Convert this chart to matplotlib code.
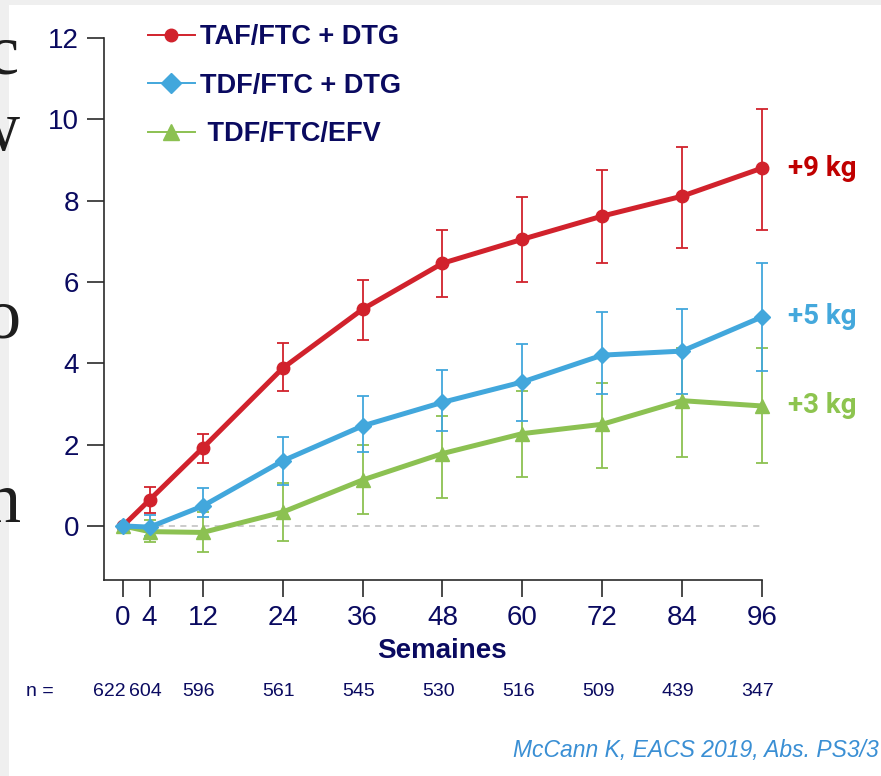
import matplotlib
matplotlib.use("Agg")
import matplotlib.pyplot as plt
from matplotlib.lines import Line2D
from matplotlib.patches import Rectangle
import matplotlib.transforms as mtransforms
import numpy as np

# ---- data -------------------------------------------------------------
weeks = [0, 4, 12, 24, 36, 48, 60, 72, 84, 96]
n_at_risk = [622, 604, 596, 561, 545, 530, 516, 509, 439, 347]

series_names = ["TAF/FTC + DTG", "TDF/FTC + DTG", " TDF/FTC/EFV"]

taf_dtg = [0.0, 0.64, 1.92, 3.88, 5.33, 6.46, 7.05, 7.62, 8.11, 8.80]
taf_dtg_lo = [0.0, 0.32, 1.55, 3.32, 4.57, 5.63, 6.00, 6.47, 6.83, 7.27]
taf_dtg_hi = [0.0, 0.96, 2.26, 4.50, 6.04, 7.27, 8.08, 8.75, 9.31, 10.25]

tdf_dtg = [0.0, -0.03, 0.49, 1.60, 2.46, 3.04, 3.54, 4.20, 4.30, 5.14]
tdf_dtg_lo = [0.0, -0.25, 0.22, 1.00, 1.82, 2.33, 2.58, 3.24, 3.24, 3.81]
tdf_dtg_hi = [0.0, 0.27, 0.93, 2.19, 3.19, 3.83, 4.47, 5.26, 5.33, 6.46]

tdf_efv = [0.0, -0.14, -0.16, 0.34, 1.13, 1.78, 2.27, 2.50, 3.08, 2.95]
tdf_efv_lo = [0.0, -0.39, -0.65, -0.37, 0.29, 0.69, 1.20, 1.42, 1.70, 1.55]
tdf_efv_hi = [0.0, 0.15, 0.34, 1.06, 1.99, 2.70, 3.32, 3.51, 4.37, 4.37]

# ---- styling ------------------------------------------------------------
SANS = ["Liberation Sans", "DejaVu Sans"]
LABEL_FONT = ["Roboto", "Liberation Sans", "DejaVu Sans"]
SERIF = ["Liberation Serif", "DejaVu Serif"]

NAVY = "#0a0a60"
RED, RED_TXT = "#d1222c", "#c00000"
BLUE, BLUE_TXT = "#42a7dc", "#44a8dc"
GREEN, GREEN_TXT = "#8cc152", "#8dc44f"

W, H = 881, 776
fig = plt.figure(figsize=(W / 100, H / 100), dpi=100)
fig.patch.set_facecolor("white")

# slide frame behind the chart panel
fig.add_artist(Rectangle((0, 0), 9 / W, 1, transform=fig.transFigure,
                         facecolor="#efefef", edgecolor="none", zorder=0))
fig.add_artist(Rectangle((0, 1 - 5 / H), 1, 5 / H, transform=fig.transFigure,
                         facecolor="#efefef", edgecolor="none", zorder=0))
# slide text peeking out at the left edge
for txt, ybase in [("rc", 73), ("w", 150), ("o", 337), ("n", 522)]:
    fig.text(20 / W, 1 - ybase / H, txt, ha="right", va="baseline",
             fontsize=52, family=SERIF, color="#1e1e1e", zorder=1)

x0, x1 = 104, 762
ytop, ybot = 38, 580
ax = fig.add_axes([x0 / W, 1 - ybot / H, (x1 - x0) / W, (ybot - ytop) / H])
ax.set_facecolor("none")
ax.set_xlim(-2.85, 96)
ax.set_ylim(-1.33, 12)

for s in ("top", "right"):
    ax.spines[s].set_visible(False)
for s in ("left", "bottom"):
    ax.spines[s].set_linewidth(1.2)
    ax.spines[s].set_color("#2a2a2a")

ax.set_xticks(weeks)
ax.set_yticks(range(0, 13, 2))
ax.tick_params(direction="out", length=12, width=1.2, color="#2a2a2a",
               labelsize=20, labelcolor=NAVY, pad=6)
for lab in ax.get_xticklabels() + ax.get_yticklabels():
    lab.set_family(SANS)

# reference line at zero
ax.plot([0, 96], [0, 0], ls=(0, (4, 3.5)), lw=1.1, color="#bdbdbd", zorder=1)

specs = [
    (taf_dtg, taf_dtg_lo, taf_dtg_hi, RED, RED_TXT, "o", 9),
    (tdf_efv, tdf_efv_lo, tdf_efv_hi, GREEN, GREEN_TXT, "^", 10),
    (tdf_dtg, tdf_dtg_lo, tdf_dtg_hi, BLUE, BLUE_TXT, "D", 8.5),
]
for vals, lo, hi, col, tcol, mk, ms in specs:
    v = np.array(vals)
    yerr = np.vstack([v - np.array(lo), np.array(hi) - v])
    ax.errorbar(weeks[1:], v[1:], yerr=yerr[:, 1:], fmt="none", ecolor=col,
                elinewidth=1.3, capsize=4.5, capthick=1.3, zorder=2, clip_on=False)
    ax.plot(weeks, v, color=col, lw=3.6, marker=mk, ms=ms, mec=col, mfc=col,
            zorder=3, clip_on=False, solid_joinstyle="round")
    ax.annotate(f"+{round(v[-1])} kg", xy=(weeks[-1], v[-1]), xytext=(26, 0),
                textcoords="offset pixels", ha="left", va="center",
                fontsize=20, fontweight="bold", family=LABEL_FONT, color=tcol)

# legend
handles = [
    Line2D([], [], color=RED, lw=1.4, marker="o", ms=9, mfc=RED, mec=RED),
    Line2D([], [], color=BLUE, lw=1.4, marker="D", ms=10, mfc=BLUE, mec=BLUE),
    Line2D([], [], color=GREEN, lw=1.4, marker="^", ms=11, mfc=GREEN, mec=GREEN),
]
leg = ax.legend(handles, series_names, loc="upper left",
                bbox_to_anchor=(148 / W, 1 - 24 / H), bbox_transform=fig.transFigure,
                frameon=False, handlelength=1.73, handletextpad=0.18,
                labelspacing=0.84, borderpad=0, borderaxespad=0,
                prop={"family": SANS, "weight": "bold", "size": 19.5})
for t in leg.get_texts():
    t.set_color(NAVY)

# axis title
ax.set_xlabel("Semaines", fontsize=20, fontweight="bold", color=NAVY, family=SANS)
ax.xaxis.set_label_coords((442 - x0) / (x1 - x0), -(651 - ybot) / (ybot - ytop))
ax.xaxis.label.set_va("center")

# patients at risk row
row_y = -(692 - ybot) / (ybot - ytop)
blend = mtransforms.blended_transform_factory(ax.transData, ax.transAxes)
fig.text(26 / W, 1 - 692 / H, "n =", ha="left", va="center", fontsize=14,
         family=SANS, color=NAVY)
for wk, n in zip(weeks, n_at_risk):
    if wk == 0:
        tr = mtransforms.offset_copy(blend, fig=fig, x=3, y=0, units="dots")
        ha = "right"
    else:
        tr = mtransforms.offset_copy(blend, fig=fig, x=-4, y=0, units="dots")
        ha = "center"
    ax.text(wk, row_y, str(n), transform=tr, ha=ha, va="center", fontsize=14,
            family=SANS, color=NAVY, clip_on=False)

# source
fig.text(1 - 2 / W, 1 - 750 / H, "McCann K, EACS 2019, Abs. PS3/3", ha="right",
         va="center", fontsize=16.5, style="italic", family=SANS, color="#3a8fd4")

fig.savefig("out.png", dpi=100, facecolor="white")
